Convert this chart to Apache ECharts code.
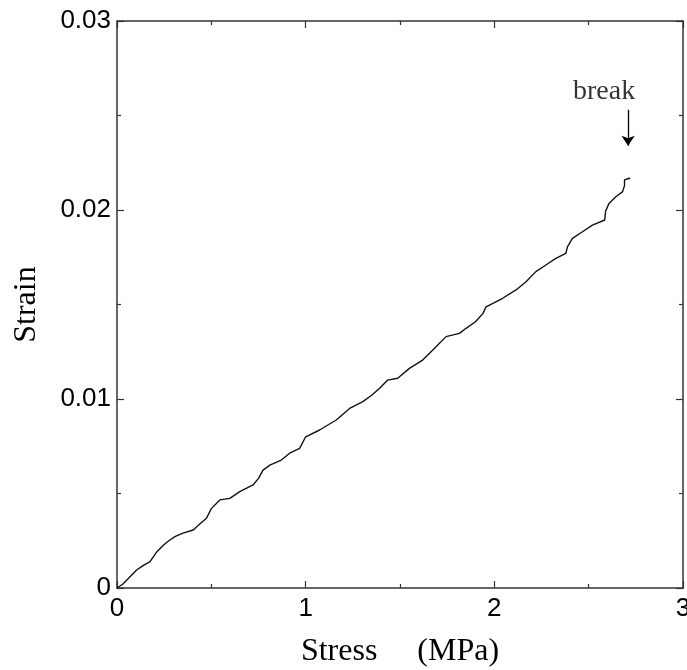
<!DOCTYPE html>
<html><head><meta charset="utf-8">
<script src="https://cdn.jsdelivr.net/npm/echarts@6/dist/echarts.min.js"></script>
<style>html,body{margin:0;padding:0;background:#fff}#c{width:687px;height:670px}</style>
</head><body><div id="c"></div>
<script>
const stress = [0,0.03,0.06,0.104,0.14,0.175,0.21,0.25,0.28,0.307,0.35,0.404,0.44,0.474,0.50,0.545,0.598,0.651,0.721,0.75,0.774,0.81,0.871,0.915,0.968,1.0,1.074,1.162,1.233,1.303,1.35,1.392,1.435,1.488,1.55,1.62,1.674,1.744,1.815,1.85,1.90,1.94,1.956,2.0,2.044,2.115,2.168,2.22,2.273,2.326,2.379,2.388,2.414,2.467,2.52,2.585,2.59,2.608,2.644,2.68,2.69,2.69,2.714,2.72];
const strain = [0,0.0002,0.0005,0.00095,0.0012,0.0014,0.0019,0.0023,0.00254,0.00272,0.0029,0.00307,0.0034,0.00369,0.0042,0.00466,0.00474,0.0051,0.00545,0.0058,0.00624,0.0065,0.00677,0.00713,0.00739,0.0080,0.00836,0.00889,0.0095,0.00986,0.0102,0.01057,0.0110,0.0111,0.01162,0.01206,0.01259,0.0133,0.01347,0.01374,0.01409,0.01453,0.01488,0.0151,0.01533,0.01577,0.0162,0.01674,0.01709,0.01744,0.01771,0.01806,0.0185,0.01885,0.0192,0.01947,0.01995,0.02035,0.0207,0.02097,0.0213,0.02159,0.02168,0.02165];
const xTicks = [0,1,2,3];
const yTicks = [0,0.01,0.02,0.03];
const breakLabel = {text:'break', x:2.582, y:0.02624};
const breakArrow = {x:2.709, yFrom:0.0253, yTo:0.0234};

const chart = echarts.init(document.getElementById('c'));
const lineCol = '#333';
const sans = 'Liberation Sans, Arial, sans-serif';
const serif = 'Liberation Serif, Times New Roman, serif';
function fmtY(v){ if (Math.abs(v)<1e-12) return '0'; return v.toFixed(2); }
function axisCommon(){ return {
  axisLine:{show:true, onZero:false, lineStyle:{color:lineCol, width:1.5}},
  axisTick:{show:true, inside:true, length:7, lineStyle:{color:lineCol, width:1.2}},
  minorTick:{show:true, splitNumber:2, length:4, lineStyle:{color:lineCol, width:1.2}},
  splitLine:{show:false}
};}
chart.setOption({
  animation:false,
  grid:{left:117, right:4, top:21, bottom:82, containLabel:false, outerBoundsMode:'none'},
  xAxis:[
    Object.assign(axisCommon(), {type:'value', min:xTicks[0], max:xTicks[xTicks.length-1], interval:1, position:'bottom',
      name:'Stress     (MPa)', nameLocation:'middle', nameGap:48,
      nameTextStyle:{fontFamily:serif, fontSize:32, color:'#000'},
      axisLabel:{fontFamily:sans, fontSize:26, color:'#000', margin:8}}),
    Object.assign(axisCommon(), {type:'value', min:xTicks[0], max:xTicks[xTicks.length-1], interval:1, position:'top',
      axisLabel:{show:false}})
  ],
  yAxis:[
    Object.assign(axisCommon(), {type:'value', min:yTicks[0], max:yTicks[yTicks.length-1], interval:0.01, position:'left',
      name:'Strain', nameLocation:'middle', nameGap:74, nameRotate:90,
      nameTextStyle:{fontFamily:serif, fontSize:32, color:'#000'},
      axisLabel:{fontFamily:sans, fontSize:26, color:'#000', margin:6, formatter:fmtY}}),
    Object.assign(axisCommon(), {type:'value', min:yTicks[0], max:yTicks[yTicks.length-1], interval:0.01, position:'right',
      axisLabel:{show:false}})
  ],
  series:[
    {type:'line', data:stress.map((s,i)=>[s,strain[i]]), showSymbol:false,
     lineStyle:{color:'#111', width:1.4}, z:3,
     markLine:{silent:true, symbol:['none','arrow'], symbolSize:10,
       lineStyle:{color:'#000', width:1.3, type:'solid'}, label:{show:false},
       data:[[{coord:[breakArrow.x, breakArrow.yFrom]},{coord:[breakArrow.x, breakArrow.yTo]}]]}},
    {type:'scatter', data:[[breakLabel.x, breakLabel.y]], symbolSize:0, silent:true,
     label:{show:true, position:'inside', formatter:breakLabel.text, fontFamily:serif, fontSize:28, color:'#000'}}
  ]
});
</script></body></html>
